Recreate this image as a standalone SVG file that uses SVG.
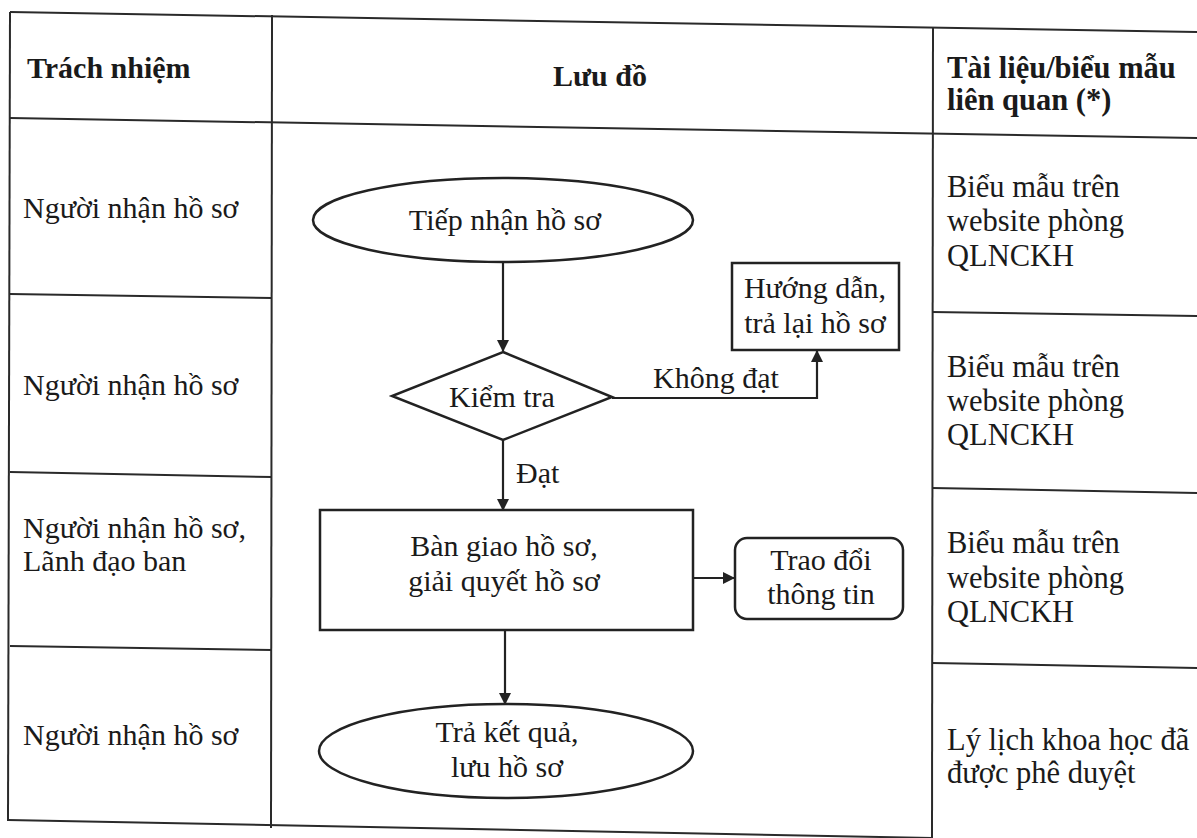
<svg xmlns="http://www.w3.org/2000/svg" width="1197" height="838" viewBox="0 0 1197 838">
<style>
.grid{stroke:#2a2a2a;stroke-width:2;fill:none}
.shape{stroke:#222;stroke-width:2.5;fill:none}
.conn{stroke:#222;stroke-width:2.2;fill:none}
text{font-size:30px;fill:#1a1a1a}
.b{font-weight:bold}
.c{text-anchor:middle}
.r{font-size:30.5px}
</style>
<defs>
<marker id="arr" markerWidth="12" markerHeight="12" refX="11" refY="6" orient="auto" markerUnits="userSpaceOnUse">
<path d="M0,0 L12,6 L0,12 Z" fill="#222"/>
</marker>
</defs>
<rect width="1197" height="838" fill="#fff"/>
<g id="table">
<path class="grid" d="M10,12 L1197,32"/>
<path class="grid" d="M10,118 L1197,138"/>
<path class="grid" d="M10,294 L272,298"/>
<path class="grid" d="M10,472 L272,477"/>
<path class="grid" d="M10,646 L272,650"/>
<path class="grid" d="M8,820 L932,838"/>
<path class="grid" d="M932,312 L1197,316"/>
<path class="grid" d="M932,488 L1197,493"/>
<path class="grid" d="M932,663 L1197,668"/>
<path class="grid" d="M10,12 L8,821"/>
<path class="grid" d="M272,15 L271,828"/>
<path class="grid" d="M933,27 L932,838"/>
</g>
<g font-family="'Liberation Serif', Tinos, 'Times New Roman', 'DejaVu Serif', serif">
<g id="headers">
<text class="b" x="27" y="78">Trách nhiệm</text>
<text class="b c" x="600" y="86">Lưu đồ</text>
<text class="b r" x="947" y="78">Tài liệu/biểu mẫu</text>
<text class="b r" x="947" y="110">liên quan (*)</text>
</g>
<g id="responsibility">
<text x="23" y="218">Người nhận hồ sơ</text>
<text x="23" y="395">Người nhận hồ sơ</text>
<text x="23" y="538">Người nhận hồ sơ,</text>
<text x="23" y="571">Lãnh đạo ban</text>
<text x="23" y="745">Người nhận hồ sơ</text>
</g>
<g id="documents">
<text class="r" x="947" y="197">Biểu mẫu trên</text>
<text class="r" x="947" y="231">website phòng</text>
<text class="r" x="947" y="266">QLNCKH</text>
<text class="r" x="947" y="377">Biểu mẫu trên</text>
<text class="r" x="947" y="411">website phòng</text>
<text class="r" x="947" y="445">QLNCKH</text>
<text class="r" x="947" y="553">Biểu mẫu trên</text>
<text class="r" x="947" y="588">website phòng</text>
<text class="r" x="947" y="622">QLNCKH</text>
<text class="r" x="947" y="750">Lý lịch khoa học đã</text>
<text class="r" x="947" y="783">được phê duyệt</text>
</g>
<g id="connectors">
<path class="conn" d="M503,262 L503,351" marker-end="url(#arr)"/>
<path class="conn" d="M612,398 L817,398 L817,351" marker-end="url(#arr)"/>
<path class="conn" d="M503,440 L503,510" marker-end="url(#arr)"/>
<path class="conn" d="M693,578 L734,578" marker-end="url(#arr)"/>
<path class="conn" d="M505,630 L505,704" marker-end="url(#arr)"/>
<text x="653" y="388">Không đạt</text>
<text x="516" y="483">Đạt</text>
</g>
<g id="n-tiepnhan">
<ellipse class="shape" cx="503" cy="220" rx="190" ry="42"/>
<text class="c" x="505" y="230">Tiếp nhận hồ sơ</text>
</g>
<g id="n-huongdan">
<rect class="shape" x="732" y="263" width="167" height="87"/>
<text class="c" x="815" y="298">Hướng dẫn,</text>
<text class="c" x="815" y="333">trả lại hồ sơ</text>
</g>
<g id="n-kiemtra">
<path class="shape" d="M503,352 L612,397 L503,440 L392,396 Z"/>
<text class="c" x="502" y="407">Kiểm tra</text>
</g>
<g id="n-bangiao">
<rect class="shape" x="320" y="510" width="373" height="120"/>
<text class="c" x="504" y="556">Bàn giao hồ sơ,</text>
<text class="c" x="504" y="591">giải quyết hồ sơ</text>
</g>
<g id="n-traodoi">
<rect class="shape" x="735" y="538" width="168" height="81" rx="12"/>
<text class="c" x="821" y="570">Trao đổi</text>
<text class="c" x="821" y="604">thông tin</text>
</g>
<g id="n-traketqua">
<ellipse class="shape" cx="506" cy="751" rx="187" ry="47"/>
<text class="c" x="507" y="742">Trả kết quả,</text>
<text class="c" x="507" y="777">lưu hồ sơ</text>
</g>
</g>
</svg>
